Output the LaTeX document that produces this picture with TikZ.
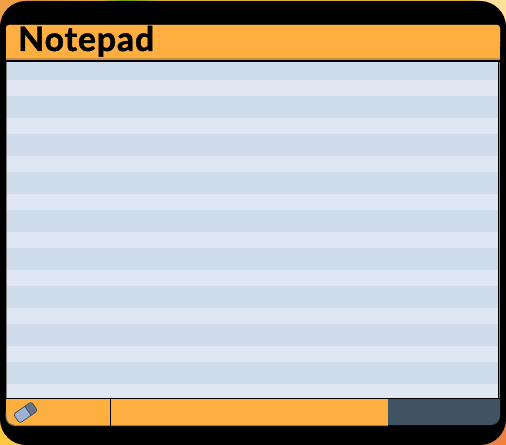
\documentclass[tikz,border=0pt]{standalone}
\usepackage{fontspec}
\setmainfont{Lato}[BoldFeatures={FakeBold=1.3,LetterSpace=2.5}]
\definecolor{barorange}{HTML}{FFAF40}
\definecolor{barshadow}{HTML}{C8923A}
\definecolor{stripedark}{HTML}{CFDCEC}
\definecolor{stripelight}{HTML}{DFE7F3}
\definecolor{slate}{HTML}{405363}
\definecolor{rubberlight}{HTML}{9DB2D6}
\definecolor{rubberdark}{HTML}{66748C}
\definecolor{cornertl}{HTML}{EFA045}
\definecolor{cornertr}{HTML}{FFE298}
\definecolor{cornerbl}{HTML}{FFC93F}
\definecolor{cornerbr}{HTML}{F0803F}
\definecolor{topyellow}{HTML}{F8C83C}
\definecolor{topgreen}{HTML}{7FAA10}
\begin{document}
\begin{tikzpicture}[x=1bp,y=-1bp]
\useasboundingbox (0,0) rectangle (506,445);
% corners behind the black frame
\fill [cornertl] (0,0) rectangle (30,40);
\fill [cornertr] (476,0) rectangle (506,40);
\fill [cornerbl] (0,405) rectangle (40,445);
\fill [cornerbr] (466,405) rectangle (506,445);
\fill [left color=cornertl, right color=topyellow] (30,0) rectangle (100,2);
\fill [left color=topyellow, right color=topgreen] (100,0) rectangle (125,2);
\fill [left color=topgreen, right color=topyellow] (125,0) rectangle (160,2);
\fill [topyellow] (160,0) rectangle (476,2);
\fill [rounded corners=26] (0,1) rectangle (506,445);
% title bar
\fill [barshadow, rounded corners=3] (6,25) rectangle (500,50);
\fill [barshadow] (6,40) rectangle (500,60);
\fill [barorange, rounded corners=3] (6,25) rectangle (500,45);
\fill [barorange] (6,35) rectangle (500,58);
\node (title) [anchor=base west, inner sep=0, font=\fontsize{34}{34}\selectfont\bfseries] at (18,51) {Notepad};
% paper
\fill [stripedark] (7,62) rectangle (498,398);
\foreach \y in {80,118,...,346} {
  \fill [stripelight] (7,\y) rectangle (498,\y+16);
}
\fill [stripelight] (7,384) rectangle (498,398);
\draw [gray, line width=1] (6.5,62) -- (6.5,398);
\draw [gray, line width=1] (499.5,62) -- (499.5,398);
% bottom bar
\fill [barorange] (110,399) -- (6,399) [rounded corners=9] -- (6,425) [sharp corners] -- (110,425) -- cycle;
\fill [barorange] (110,399) rectangle (388,425);
\fill [slate] (388,399) -- (500,399) [rounded corners=9] -- (500,425) [sharp corners] -- (388,425) -- cycle;
\draw [gray, line width=1, rounded corners=9] (6,412) -- (6,425.5) -- (388,425.5);
\draw (110.5,399) -- (110.5,426);
% eraser
\begin{scope}[shift={(25.5,412.5)}, rotate=35]
\fill [rubberlight, rounded corners=2.5] (-11,-5.5) rectangle (0,5.5);
\fill [rubberlight] (-6,-5.5) rectangle (5,5.5);
\fill [rubberdark, rounded corners=2.5] (3,-5.5) rectangle (11,5.5);
\fill [rubberdark] (3,-5.5) rectangle (8,5.5);
\draw [rubberdark!70!black, rounded corners=2.5, line width=.8] (-11,-5.5) rectangle (11,5.5);
\draw [rubberdark!70!black, line width=.8] (3,-5.5) -- (3,5.5);
\end{scope}
\end{tikzpicture}
\end{document}
